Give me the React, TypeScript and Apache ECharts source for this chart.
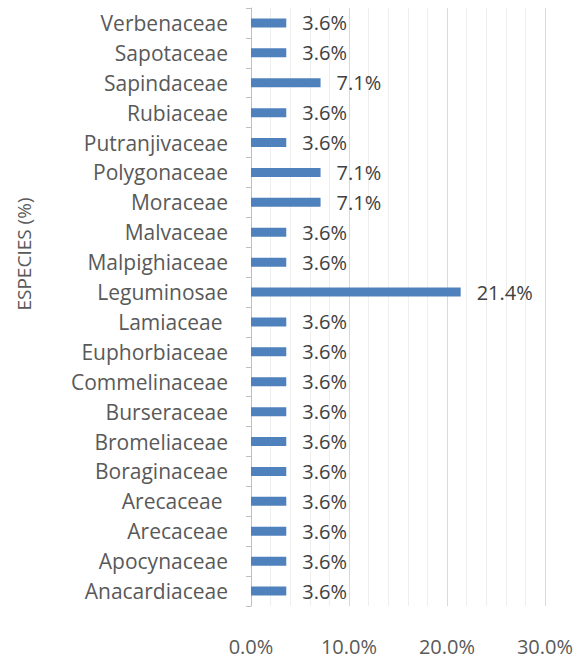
import React, { useEffect, useRef } from "react";
import * as echarts from "echarts";

const categories = [
  "Anacardiaceae",
  "Apocynaceae",
  "Arecaceae",
  "Arecaceae ",
  "Boraginaceae",
  "Bromeliaceae",
  "Burseraceae",
  "Commelinaceae",
  "Euphorbiaceae",
  "Lamiaceae ",
  "Leguminosae",
  "Malpighiaceae",
  "Malvaceae",
  "Moraceae",
  "Polygonaceae",
  "Putranjivaceae",
  "Rubiaceae",
  "Sapindaceae",
  "Sapotaceae",
  "Verbenaceae",
];

const values = [3.6, 3.6, 3.6, 3.6, 3.6, 3.6, 3.6, 3.6, 3.6, 3.6, 21.4, 3.6, 3.6, 7.1, 7.1, 3.6, 3.6, 7.1, 3.6, 3.6];

const xTicks = [0, 10, 20, 30];
const axisTitle = "ESPECIES (%)";

const FONT = "'Open Sans'";

export default function App() {
  const ref = useRef<HTMLDivElement>(null);
  useEffect(() => {
    if (!ref.current) return;
    const chart = echarts.init(ref.current, undefined, { renderer: "svg" });
    chart.setOption({
      animation: false,
      backgroundColor: "#ffffff",
      grid: { left: 251, right: 31, top: 8, bottom: 52, containLabel: false },
      xAxis: {
        type: "value",
        min: xTicks[0],
        max: xTicks[xTicks.length - 1],
        interval: 10,
        axisLine: { show: false },
        axisTick: { show: false },
        axisLabel: {
          formatter: (v: number) => v.toFixed(1) + "%",
          color: "#595959",
          fontSize: 20,
          fontFamily: FONT,
          margin: 30,
        },
        splitLine: { show: true, lineStyle: { color: "#d9d9d9", width: 1 } },
        minorTick: { show: false, splitNumber: 5 },
        minorSplitLine: { show: true, lineStyle: { color: "#eeeeee", width: 1 } },
      },
      yAxis: {
        type: "category",
        data: categories,
        axisLine: { show: true, lineStyle: { color: "#bfbfbf", width: 1 } },
        axisTick: { show: true, length: 5, lineStyle: { color: "#bfbfbf" } },
        axisLabel: {
          color: "#595959",
          fontSize: 21,
          fontFamily: FONT,
          margin: 23,
        },
        splitLine: { show: false },
      },
      graphic: [
        {
          type: "text",
          x: 24,
          y: 254,
          rotation: Math.PI / 2,
          style: {
            text: axisTitle,
            fill: "#595959",
            fontSize: 19,
            fontFamily: FONT,
            align: "center",
            verticalAlign: "middle",
          },
        },
      ],
      series: [
        {
          type: "bar",
          data: values,
          barWidth: 9,
          itemStyle: { color: "#4f81bd" },
          label: {
            show: true,
            position: "right",
            distance: 16,
            formatter: (p: any) => Number(p.value).toFixed(1) + "%",
            color: "#404040",
            fontSize: 20,
            fontFamily: FONT,
          },
        },
      ],
    });
    return () => chart.dispose();
  }, []);
  return <div ref={ref} style={{ width: 576, height: 658, position: "absolute", left: 0, top: 0 }} />;
}
